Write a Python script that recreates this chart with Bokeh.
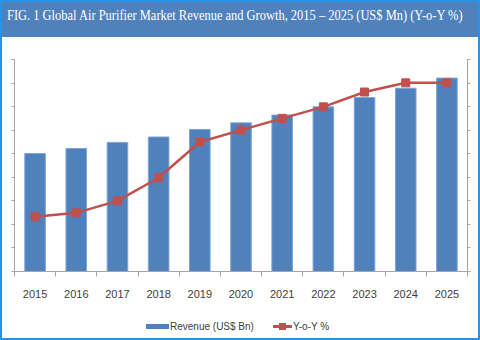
from bokeh.plotting import figure
from bokeh.models import Range1d, LinearAxis, FixedTicker, Div, CustomJSTickFormatter
from bokeh.layouts import column
from bokeh.embed import file_html
from bokeh.resources import INLINE

# ---- data ----
years = ["2015", "2016", "2017", "2018", "2019", "2020", "2021", "2022", "2023", "2024", "2025"]
revenue = [5.01, 5.22, 5.48, 5.71, 6.03, 6.31, 6.64, 6.99, 7.39, 7.78, 8.21]
yoy = [2.32, 2.49, 3.00, 3.98, 5.50, 6.00, 6.50, 6.99, 7.62, 8.01, 8.01]
title_text = "FIG. 1 Global Air Purifier Market Revenue and Growth, 2015 \u2013 2025 (US$ Mn) (Y-o-Y %)"
legend_labels = ["Revenue (US$ Bn)", "Y-o-Y %"]

BAR = "#4f81bd"
RED = "#c0504d"
AXIS = "#a6a6a6"
LABEL = "#404040"
BORDER = "#2792e6"
FONT = "Liberation Sans"

xs = list(range(len(years)))

p = figure(width=476, height=275, output_backend="svg", toolbar_location=None,
           x_range=Range1d(-0.5, len(years) - 0.5), y_range=Range1d(0, 9),
           min_border_left=12, min_border_right=11, min_border_top=22, min_border_bottom=41,
           x_axis_location=None, y_axis_location=None)
p.extra_y_ranges = {"yoy": Range1d(0, 9)}
p.xgrid.visible = False
p.ygrid.visible = False
p.outline_line_color = None
p.background_fill_color = "white"
p.border_fill_color = "white"

p.vbar(x=xs, top=revenue, width=0.5, fill_color=BAR, line_color="#7ea5d6", line_width=1)
p.line(x=xs, y=yoy, line_color=RED, line_width=2.5, y_range_name="yoy")
p.scatter(x=xs, y=yoy, marker="square", size=8, fill_color=RED, line_color=RED,
          y_range_name="yoy")

# bottom axis: labels at centres, tick marks between categories
xaxis = LinearAxis(ticker=FixedTicker(ticks=xs, minor_ticks=[i - 0.5 for i in range(len(years) + 1)]))
xaxis.formatter = CustomJSTickFormatter(args=dict(labels=years),
                                        code="return labels[Math.round(tick)] || '';")
xaxis.axis_line_color = AXIS
xaxis.major_tick_out = 0
xaxis.major_tick_in = 0
xaxis.minor_tick_out = 5
xaxis.minor_tick_in = 0
xaxis.minor_tick_line_color = AXIS
xaxis.major_label_text_font = FONT
xaxis.major_label_text_font_size = "11px"
xaxis.major_label_text_color = LABEL
xaxis.major_label_standoff = 13
p.add_layout(xaxis, "below")

for side, rname in (("left", "default"), ("right", "yoy")):
    ax = LinearAxis(y_range_name=rname, ticker=FixedTicker(ticks=list(range(10))))
    ax.formatter = CustomJSTickFormatter(code="return '';")
    ax.axis_line_color = AXIS
    ax.major_tick_line_color = AXIS
    ax.major_tick_out = 3
    ax.major_tick_in = 0
    ax.minor_tick_line_color = None
    ax.major_label_standoff = 0
    p.add_layout(ax, side)

title = Div(text=("<div style=\"white-space:nowrap;padding:3px 0 0 5px;\">"
                  "<span style=\"display:inline-block;transform:scaleX(0.83);transform-origin:0 0;"
                  "font-family:'Liberation Serif';font-size:15px;color:#ffffff;\">"
                  + title_text + "</span></div>"),
            width=476, height=35,
            styles={"background-color": BAR, "overflow": "hidden", "margin": "0"})

txt = ("position:absolute;top:6px;height:17px;line-height:17px;white-space:nowrap;"
       "font-family:'Liberation Sans';font-size:10px;color:" + LABEL + ";")
legend_html = (
    "<div style=\"position:relative;width:476px;height:26px;\">"
    f"<div style=\"position:absolute;left:144px;top:12px;width:23px;height:5px;background:{BAR};\"></div>"
    f"<div style=\"{txt}left:168px;\">{legend_labels[0]}</div>"
    f"<div style=\"position:absolute;left:271px;top:13px;width:19px;height:2.5px;background:{RED};\"></div>"
    f"<div style=\"position:absolute;left:277px;top:10.5px;width:7px;height:7px;background:{RED};\"></div>"
    f"<div style=\"{txt}left:291px;\">{legend_labels[1]}</div>"
    "</div>"
)
legend = Div(text=legend_html, width=476, height=26, styles={"margin": "0"})

layout = column(title, p, legend, spacing=0, styles={"border": "2px solid " + BORDER})

open("out.html", "w").write(file_html(layout, INLINE))
